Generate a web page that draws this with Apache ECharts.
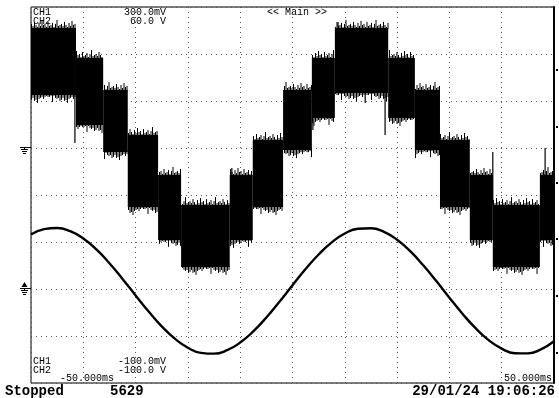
<!DOCTYPE html>
<html><head><meta charset="utf-8">
<script src="https://cdn.jsdelivr.net/npm/echarts@6/dist/echarts.min.js"></script>
<style>html,body{margin:0;padding:0;background:#fff}#c{width:559px;height:398px}</style>
</head><body><div id="c"></div>
<script>
// Time axis (ms), 10 ms/div
const timeMin = -50, timeMax = 50, timeStep = 10;
// CH1 (sine) axis, mV
const ch1Min = -100, ch1Max = 300, ch1Step = 50;
// CH2 (stepped) axis, V
const ch2Min = -100, ch2Max = 60;

// CH1 sine samples
const ch1Times = [-50,-47.5,-45,-42.5,-40,-37.5,-35,-32.5,-30,-27.5,-25,-22.5,-20,-17.5,-15,-12.5,-10,-7.5,-5,-2.5,0,2.5,5,7.5,10,12.5,15,17.5,20,22.5,25,27.5,30,32.5,35,37.5,40,42.5,45,47.5,50];
const ch1Values = [57.9,63.7,64.9,61.5,53.7,42.1,27.4,10.7,-6.8,-24.0,-39.8,-52.8,-62.5,-67.9,-68.8,-65.1,-57.0,-45.1,-30.3,-13.6,4.0,21.2,36.7,49.6,59.0,64.1,64.7,60.7,52.3,40.2,25.2,8.4,-9.2,-26.3,-41.7,-54.4,-63.4,-68.3,-68.5,-64.2,-55.6];

// CH2 stepped band segments (V)
const segStart  = [-50,-41.4,-36.2,-31.5,-25.7,-21.3,-12.0,-7.6,-1.8,3.7,8.1,18.3,23.4,28.2,33.9,38.3,47.3];
const segEnd    = [-41.4,-36.2,-31.5,-25.7,-21.3,-12.0,-7.6,-1.8,3.7,8.1,18.3,23.4,28.2,33.9,38.3,47.3,50];
const segTop    = [51.1,38.3,24.7,5.5,-11.5,-24.3,-11.5,3.4,24.7,38.3,51.1,38.3,24.7,3.4,-11.5,-24.3,-11.5];
const segBottom = [22.6,9.8,-1.7,-25.1,-39.1,-50.6,-39.1,-25.1,-0.9,12.8,23.4,12.8,-0.9,-25.1,-39.1,-50.6,-39.1];

// CH2 isolated spikes (V)
const spikeTime = [-41.6,8.7,13.9,17.7,3.9,38.3,48.3,-11.6];
const spikeFrom = [22.6,51.1,23.4,23.4,12.8,-24.3,-24.3,-24.3];
const spikeTo   = [2.1,53.6,19.1,5.5,7.7,-1.7,0.0,-8.5];

// small reference ticks outside the right border (CH2 V)
const rightMarks = [33.2, 8.9, -14.9, -38.7, -63.0, -87.2];

// drawing texture for trace noise on band edges (pixels, style only)
const fuzzLen = [4,2,6,3,1,5,2,7,3,4,1,6,2,3,5,1,4,8,2,3];

const chart = echarts.init(document.getElementById('c'), null, {renderer:'canvas'});

const ch1Data = ch1Times.map((t,i)=>[t, ch1Values[i]]);
const segData = segStart.map((s,i)=>[s, segEnd[i], segTop[i], segBottom[i]]);
const spikeData = spikeTime.map((t,i)=>[t, spikeFrom[i], spikeTo[i]]);

const mono = "'Liberation Mono','DejaVu Sans Mono',monospace";
function txt(x, y, s, align, size, bold){
  return {type:'text', x:x, y:y, style:{text:s, x:0, y:0, fill:'#000', font:(bold?'bold ':'')+(size||10)+'px '+mono, textAlign:align||'left', textVerticalAlign:'middle'}, z:100};
}
function hl(x1, x2, y){ return {type:'line', shape:{x1:x1, y1:y+0.5, x2:x2, y2:y+0.5}, style:{stroke:'#000', lineWidth:1}}; }

// ground marker drawn at an axis zero
function groundMarker(withArrow){
  return function(params, api){
    const p = api.coord([api.value(0), api.value(1)]);
    const y0 = Math.round(p[1]) - 1;
    const x0 = Math.round(p[0]);
    const ch = [hl(x0-11, x0, y0), hl(x0-10, x0-3, y0+2), hl(x0-9, x0-4, y0+4), hl(x0-8, x0-5, y0+6)];
    ch.push({type:'line', shape:{x1:x0-6.5, y1:y0, x2:x0-6.5, y2:y0+2}, style:{stroke:'#000', lineWidth:1}});
    if (withArrow) ch.push({type:'polygon', shape:{points:[[x0-6.5,y0-6],[x0-3.5,y0-1],[x0-9.5,y0-1]]}, style:{fill:'#000'}});
    return {type:'group', children:ch};
  };
}

chart.setOption({
  animation:false,
  backgroundColor:'#fff',
  grid:{left:31, top:7, right:5, bottom:15, show:true, borderColor:'#000', borderWidth:1, backgroundColor:'#fff'},
  xAxis:{type:'value', min:timeMin, max:timeMax, interval:timeStep,
    axisLine:{show:false}, axisTick:{show:false}, axisLabel:{show:false},
    splitLine:{show:true, lineStyle:{color:'#555', width:1, type:[1,4]}}},
  yAxis:[
    {type:'value', min:ch1Min, max:ch1Max, interval:ch1Step,
      axisLine:{show:false}, axisTick:{show:false}, axisLabel:{show:false},
      splitLine:{show:true, lineStyle:{color:'#555', width:1, type:[1,4]}}},
    {type:'value', min:ch2Min, max:ch2Max, position:'right',
      axisLine:{show:true, lineStyle:{color:'#000', width:2}}, axisTick:{show:false}, axisLabel:{show:false},
      splitLine:{show:false}}
  ],
  series:[
    {type:'custom', name:'CH2', xAxisIndex:0, yAxisIndex:1, data:segData, clip:true,
      encode:{x:[0,1], y:[2,3]},
      renderItem:function(params, api){
        const p1 = api.coord([api.value(0), api.value(2)]);
        const p2 = api.coord([api.value(1), api.value(3)]);
        const children = [{type:'rect', shape:{x:p1[0], y:p1[1], width:p2[0]-p1[0], height:p2[1]-p1[1]}, style:{fill:'#000'}}];
        let k = params.dataIndex * 7;
        for (let x = Math.ceil(p1[0]) + 0.5; x < p2[0]; x += 1.5, k++) {
          const a = fuzzLen[k % fuzzLen.length], b = fuzzLen[(k*3+5) % fuzzLen.length];
          children.push({type:'line', shape:{x1:x, y1:p1[1]+1, x2:x, y2:p1[1]-a}, style:{stroke:'#000', lineWidth:1}});
          children.push({type:'line', shape:{x1:x, y1:p2[1]-1, x2:x, y2:p2[1]+b}, style:{stroke:'#000', lineWidth:1}});
        }
        return {type:'group', children:children};
      }},
    {type:'custom', name:'CH2 spikes', xAxisIndex:0, yAxisIndex:1, data:spikeData, clip:true,
      encode:{x:0, y:[1,2]},
      renderItem:function(params, api){
        const p1 = api.coord([api.value(0), api.value(1)]);
        const p2 = api.coord([api.value(0), api.value(2)]);
        return {type:'line', shape:{x1:p1[0], y1:p1[1], x2:p2[0], y2:p2[1]}, style:{stroke:'#000', lineWidth:1.2}};
      }},
    {type:'line', name:'CH1', xAxisIndex:0, yAxisIndex:0, data:ch1Data, smooth:true, showSymbol:false,
      lineStyle:{color:'#000', width:2.4}},
    {type:'custom', xAxisIndex:0, yAxisIndex:1, data:[[timeMin,0]], clip:false, silent:true, renderItem:groundMarker(false)},
    {type:'custom', xAxisIndex:0, yAxisIndex:0, data:[[timeMin,0]], clip:false, silent:true, renderItem:groundMarker(true)},
    {type:'custom', xAxisIndex:0, yAxisIndex:1, data:rightMarks.map(v=>[timeMax, v]), clip:false, silent:true,
      renderItem:function(params, api){
        const p = api.coord([api.value(0), api.value(1)]);
        const y = Math.round(p[1]);
        return {type:'rect', shape:{x:Math.round(p[0])+2, y:y-1, width:2, height:2}, style:{fill:'#000'}};
      }}
  ],
  graphic:[
    txt(33,12,'CH1'), txt(33,21,'CH2'),
    txt(166,12,'300.0mV','right'), txt(166,21,'60.0 V','right'),
    txt(267,12,'<< Main >>','left'),
    txt(33,361,'CH1'), txt(33,370,'CH2'),
    txt(166,361,'-100.0mV','right'), txt(166,370,'-100.0 V','right'),
    txt(60,378,'-50.000ms','left'), txt(552,378,'50.000ms','right'),
    txt(5,391,'Stopped','left',14,true), txt(110,391,'5629','left',14,true),
    txt(555,391,'29/01/24 19:06:26','right',14,true)
  ]
});
</script></body></html>
